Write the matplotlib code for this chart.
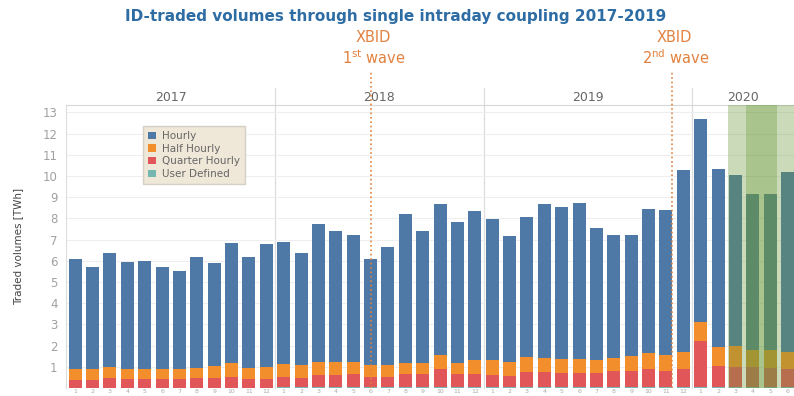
import numpy as np
import matplotlib.pyplot as plt
from matplotlib.patches import Rectangle

# monthly values, Jan 2017 .. Jun 2020 (TWh)
months = [str(m) for m in range(1, 13)] * 3 + [str(m) for m in range(1, 7)]
years = ['2017', '2018', '2019', '2020']

total = [6.09, 5.73, 6.38, 5.95, 6.00, 5.73, 5.54, 6.19, 5.89, 6.83, 6.17, 6.79,
         6.88, 6.35, 7.72, 7.39, 7.20, 6.09, 6.63, 8.20, 7.43, 8.66, 7.81, 8.35,
         7.98, 7.15, 8.08, 8.66, 8.52, 8.75, 7.57, 7.23, 7.20, 8.44, 8.38, 10.30,
         12.69, 10.34, 10.06, 9.16, 9.16, 10.17]
# cumulative top of the orange (half hourly) segment
orange_top = [0.90, 0.90, 1.01, 0.91, 0.90, 0.91, 0.91, 0.95, 1.04, 1.17, 0.94, 0.98,
              1.15, 1.07, 1.23, 1.24, 1.24, 1.07, 1.07, 1.16, 1.19, 1.56, 1.16, 1.31,
              1.31, 1.24, 1.45, 1.42, 1.37, 1.39, 1.34, 1.42, 1.50, 1.65, 1.54, 1.69,
              3.12, 1.94, 1.96, 1.81, 1.81, 1.72]
# cumulative top of the red (quarter hourly) segment
red_top = [0.40, 0.40, 0.49, 0.41, 0.41, 0.41, 0.41, 0.49, 0.49, 0.53, 0.41, 0.41,
           0.50, 0.47, 0.61, 0.61, 0.66, 0.53, 0.53, 0.64, 0.64, 0.88, 0.64, 0.68,
           0.61, 0.57, 0.76, 0.76, 0.72, 0.72, 0.70, 0.79, 0.80, 0.88, 0.80, 0.88,
           2.22, 1.05, 1.01, 0.98, 0.94, 0.88]
user_defined = [0.02] * 12 + [0.04] * 12 + [0.05] * 12 + [0.06] * 6

xbid_pos = [17.0, 34.35]
xbid_wave = [r'1$^{\mathrm{st}}$ wave', r'2$^{\mathrm{nd}}$ wave']

total = np.array(total)
orange_top = np.array(orange_top)
red_top = np.array(red_top)
user_defined = np.array(user_defined)
hourly = total - orange_top
half_hourly = orange_top - red_top
quarter_hourly = red_top - user_defined

c_blue, c_orange, c_red, c_teal = '#4e79a7', '#f28e2b', '#e15759', '#76b7b2'
c_xbid = '#e2803f'

fig = plt.figure(figsize=(7.94, 3.96), dpi=100)
ax = fig.add_axes([0.0831, 0.0202, 0.9169, 0.7146])

x = np.arange(len(total))
w = 0.75
ax.bar(x, user_defined, w, color=c_teal, label='User Defined', zorder=2)
ax.bar(x, quarter_hourly, w, bottom=user_defined, color=c_red, label='Quarter Hourly', zorder=2)
ax.bar(x, half_hourly, w, bottom=red_top, color=c_orange, label='Half Hourly', zorder=2)
ax.bar(x, hourly, w, bottom=orange_top, color=c_blue, label='Hourly', zorder=2)

ax.set_xlim(-0.53, 41.37)
ax.set_ylim(0, 13.35)
ax.set_yticks(range(1, 14))
ax.set_xticks(x)
ax.set_xticklabels(months)
ax.tick_params(axis='y', length=0, labelsize=8.5, labelcolor='#a0a0a0', pad=6)
ax.tick_params(axis='x', length=0, labelsize=4.5, labelcolor='#aaaaaa', pad=1)
ax.grid(axis='y', color='#eeeeee', linewidth=0.8, zorder=0)
for s in ['right', 'bottom']:
    ax.spines[s].set_visible(False)
ax.spines['left'].set_color('#dddddd')
ax.spines['top'].set_color('#d8d8d8')
ax.set_ylabel('Traded volumes [TWh]', fontsize=7.5, color='#444444', labelpad=14)

trans = ax.get_xaxis_transform()

# year header and separators
for i, yr in enumerate(years):
    lo = i * 12 - 0.5
    hi = min(lo + 12, 41.37)
    ax.text((lo + hi) / 2, 1.005, yr, transform=trans,
            ha='center', va='bottom', fontsize=9, color='#666666')
    if i > 0:
        ax.plot([lo, lo], [0, 1.06], transform=trans,
                color='#dddddd', linewidth=0.9, clip_on=False, zorder=1)

# covid shading over 2020 months
ax.add_patch(Rectangle((37.6, 0), 4.0, 1.0, transform=trans, color='#6a9a3a',
                       alpha=0.35, linewidth=0, zorder=3))
ax.add_patch(Rectangle((38.6, 0), 1.8, 1.0, transform=trans, color='#6a9a3a',
                       alpha=0.35, linewidth=0, zorder=3))

# XBID go-live markers
for xv, wave in zip(xbid_pos, xbid_wave):
    ax.plot([xv, xv], [0, 1.115], transform=trans, color=c_xbid, linestyle=':',
            linewidth=1.2, clip_on=False, zorder=4)
    ax.text(xv + 0.15, 1.237, 'XBID', transform=trans, ha='center', va='center',
            fontsize=10.5, color=c_xbid)
    ax.text(xv + 0.2, 1.168, wave, transform=trans, ha='center', va='center',
            fontsize=10.5, color=c_xbid)

handles, labels = ax.get_legend_handles_labels()
leg = ax.legend(handles[::-1], labels[::-1], loc='upper left', bbox_to_anchor=(0.099, 0.945),
                fontsize=7.5, frameon=True, fancybox=False, framealpha=1,
                facecolor='#efe7d8', edgecolor='#d5d0c5', handlelength=0.7,
                handleheight=0.7, handletextpad=0.6, labelspacing=0.25,
                borderpad=0.5, labelcolor='#666666')

fig.text(0.158, 0.958, 'ID-traded volumes through single intraday coupling 2017-2019',
         fontsize=11, fontweight='bold', color='#2e6ca4', ha='left', va='center')

fig.savefig('out.png', dpi=100)
